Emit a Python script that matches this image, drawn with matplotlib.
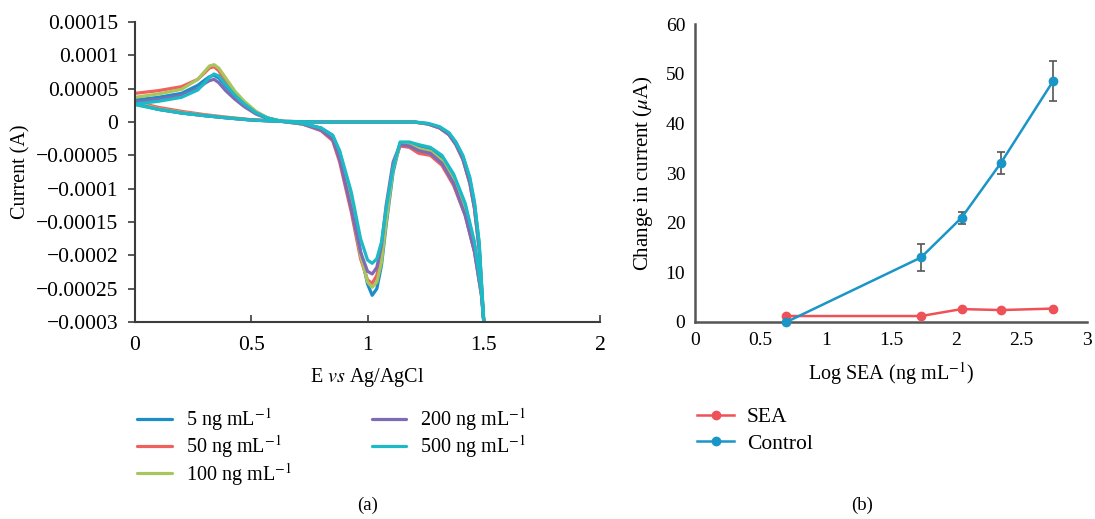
import numpy as np
import matplotlib
matplotlib.use('Agg')
import matplotlib.pyplot as plt
from matplotlib.lines import Line2D

plt.rcParams['font.family'] = ['Liberation Serif', 'DejaVu Serif']
plt.rcParams['mathtext.fontset'] = 'stix'
plt.rcParams['axes.unicode_minus'] = True

# --- panel (a): cyclic voltammograms, current in units of 1e-5 A ---
conc_labels = [r'5 ng mL$^{-1}$', r'50 ng mL$^{-1}$', r'100 ng mL$^{-1}$',
               r'200 ng mL$^{-1}$', r'500 ng mL$^{-1}$']
cv_colors = ['#1b8ec9', '#f0605d', '#a9c65c', '#7f6bb5', '#1cbac6']

e_fwd = [0, 0.1, 0.2, 0.27, 0.30, 0.32, 0.34, 0.36, 0.39, 0.43, 0.47, 0.52, 0.57,
         0.63, 0.72, 0.8, 0.85, 0.88, 0.93, 0.97, 1.0, 1.02, 1.04, 1.06, 1.08, 1.11,
         1.14, 1.18, 1.22, 1.27, 1.32, 1.37, 1.42, 1.46, 1.49, 1.5]
e_rev = [1.5, 1.49, 1.48, 1.46, 1.44, 1.41, 1.38, 1.35, 1.31, 1.26, 1.2, 1.0,
         0.8, 0.62, 0.5, 0.4, 0.3, 0.2, 0.1, 0.0]

i_fwd_5 = [3.3, 3.7, 4.3, 5.5, 6.3, 6.8, 7.0, 6.6, 5.4, 3.8, 2.6, 1.4, 0.6, 0.1,
           -0.2, -0.9, -2.0, -4.5, -11.5, -19.5, -24.3, -26.0, -25.0, -21.5, -15.5,
           -7.5, -3.2, -3.1, -3.6, -4.0, -5.3, -8.0, -12.5, -18.5, -25.5, -30.0]
i_fwd_50 = [4.3, 4.7, 5.3, 6.4, 7.4, 8.1, 8.3, 7.7, 6.0, 4.1, 2.8, 1.5, 0.6, 0.1,
            -0.3, -1.3, -2.8, -6.0, -13.5, -20.5, -23.7, -24.2, -23.0, -19.5, -13.5,
            -6.5, -3.6, -3.8, -4.7, -5.0, -6.5, -9.5, -14.0, -19.5, -26.0, -30.0]
i_fwd_100 = [3.7, 4.2, 4.9, 6.4, 7.6, 8.4, 8.6, 8.1, 6.6, 4.6, 3.1, 1.6, 0.6, 0.1,
             -0.3, -1.1, -2.4, -5.2, -12.5, -20.0, -24.0, -24.8, -24.0, -21.0, -15.0,
             -7.0, -3.3, -3.4, -4.0, -4.4, -5.8, -8.8, -13.5, -19.0, -26.0, -30.0]
i_fwd_200 = [3.0, 3.4, 4.0, 5.0, 5.8, 6.2, 6.4, 5.9, 4.7, 3.4, 2.3, 1.2, 0.5, 0.1,
             -0.3, -1.2, -2.6, -5.6, -13.0, -19.5, -22.4, -22.8, -21.8, -18.5, -12.5,
             -6.0, -3.4, -3.6, -4.3, -4.7, -6.2, -9.2, -14.0, -19.5, -26.0, -30.0]
i_fwd_500 = [2.7, 3.1, 3.7, 4.8, 5.9, 6.7, 7.2, 6.9, 5.6, 4.0, 2.7, 1.4, 0.6, 0.1,
             -0.2, -0.9, -2.0, -4.3, -10.5, -17.5, -20.7, -21.2, -20.5, -18.0, -13.0,
             -6.8, -3.0, -3.0, -3.4, -3.8, -5.0, -7.8, -12.2, -18.0, -25.5, -30.0]

i_rev_5 = [-30, -24.2, -18.3, -12.3, -8.6, -5.2, -3.1, -1.7, -0.8, -0.25, 0.0, 0.0,
           0.0, 0.1, 0.3, 0.6, 0.95, 1.35, 1.9, 2.8]
i_rev_50 = [-30, -24.8, -19.0, -13.0, -9.2, -5.6, -3.4, -1.9, -0.9, -0.3, 0.0, 0.0,
            0.0, 0.1, 0.35, 0.7, 1.1, 1.6, 2.2, 3.0]
i_rev_100 = [-30, -24.6, -18.8, -12.8, -9.0, -5.5, -3.3, -1.8, -0.85, -0.3, 0.0, 0.0,
             0.0, 0.1, 0.3, 0.65, 1.0, 1.45, 2.0, 2.9]
i_rev_200 = [-30, -24.8, -19.0, -13.0, -9.2, -5.6, -3.4, -1.9, -0.9, -0.3, 0.0, 0.0,
             0.0, 0.1, 0.3, 0.6, 0.95, 1.35, 1.9, 2.7]
i_rev_500 = [-30, -24.0, -18.0, -12.0, -8.3, -5.0, -3.0, -1.6, -0.7, -0.2, 0.0, 0.0,
             0.0, 0.1, 0.3, 0.6, 0.95, 1.35, 1.9, 2.6]

cv_fwd = [i_fwd_5, i_fwd_50, i_fwd_100, i_fwd_200, i_fwd_500]
cv_rev = [i_rev_5, i_rev_50, i_rev_100, i_rev_200, i_rev_500]

a_yticks = [0.00015, 0.0001, 0.00005, 0, -0.00005, -0.0001, -0.00015, -0.0002,
            -0.00025, -0.0003]
a_yticklabels = ['0.00015', '0.0001', '0.00005', '0', '\u22120.00005', '\u22120.0001',
                 '\u22120.00015', '\u22120.0002', '\u22120.00025', '\u22120.0003']
a_xticks = [0, 0.5, 1, 1.5, 2]
a_xticklabels = ['0', '0.5', '1', '1.5', '2']

# --- panel (b): calibration ---
series_labels = ['SEA', 'Control']
log_sea = [0.70, 1.73, 2.04, 2.34, 2.74]
sea_vals = [1.2, 1.2, 2.6, 2.4, 2.7]
control_vals = [0.0, 13.0, 21.0, 32.0, 48.5]
control_err = [0.0, 2.8, 1.2, 2.2, 4.0]

fig = plt.figure(figsize=(10.95, 5.19), dpi=100)
ax1 = fig.add_axes([0.1233, 0.3796, 0.4247, 0.578])
ax2 = fig.add_axes([0.6347, 0.3796, 0.3580, 0.574])

spine_col = '#3c3c3c'
for k in range(5):
    e = e_fwd + e_rev
    cur = np.array(cv_fwd[k] + cv_rev[k]) * 1e-5
    ax1.plot(e, cur, color=cv_colors[k], lw=2.3, label=conc_labels[k],
             solid_joinstyle='round', solid_capstyle='round')

ax1.set_xlim(0, 2)
ax1.set_ylim(-0.0003, 0.00015)
ax1.set_yticks(a_yticks)
ax1.set_yticklabels(a_yticklabels)
ax1.set_xticks(a_xticks)
ax1.set_xticklabels(a_xticklabels)
for s in ['top', 'right']:
    ax1.spines[s].set_visible(False)
for s in ['left', 'bottom']:
    ax1.spines[s].set_color(spine_col)
    ax1.spines[s].set_linewidth(1.5)
ax1.tick_params(axis='y', direction='out', length=5, width=1.2, color=spine_col,
                labelsize=15.5, pad=7)
ax1.tick_params(axis='x', direction='in', length=5, width=1.2, color=spine_col,
                labelsize=15.5, pad=10)
ax1.set_xlabel(r'E $\mathit{vs}$ Ag/AgCl', fontsize=14.5, labelpad=8)
ax1.set_ylabel('Current (A)', fontsize=14.5, labelpad=4)

sea_col = '#ee5258'
ctl_col = '#1a95c8'
ax2.plot(log_sea, sea_vals, color=sea_col, lw=1.8, marker='o', ms=6,
         clip_on=False, zorder=3)
ax2.errorbar(log_sea, control_vals, yerr=control_err, color=ctl_col, lw=1.8,
             marker='o', ms=6, ecolor='#555555', elinewidth=1.2, capsize=3,
             capthick=1.2, clip_on=False, zorder=4)
ax2.set_xlim(0, 3)
ax2.set_ylim(0, 60)
ax2.set_xticks([0, 0.5, 1, 1.5, 2, 2.5, 3])
ax2.set_xticklabels(['0', '0.5', '1', '1.5', '2', '2.5', '3'])
ax2.set_yticks([0, 10, 20, 30, 40, 50, 60])
for s in ['top', 'right']:
    ax2.spines[s].set_visible(False)
for s in ['left', 'bottom']:
    ax2.spines[s].set_color('#555555')
    ax2.spines[s].set_linewidth(1.8)
ax2.tick_params(length=0, labelsize=14, pad=7)
ax2.set_xlabel(r'Log SEA (ng mL$^{-1}$)', fontsize=14.5, labelpad=8)
ax2.set_ylabel(r'Change in current ($\mu$A)', fontsize=15, labelpad=8)

h1, l1 = ax1.get_legend_handles_labels()
fig.legend(h1, l1, loc='upper left', bbox_to_anchor=(0.118, 0.233), ncol=2,
           frameon=False, fontsize=14.5, handlelength=1.7, handletextpad=0.7,
           columnspacing=4.0, labelspacing=0.02, borderaxespad=0)
h2 = [Line2D([], [], color=sea_col, lw=1.8, marker='o', ms=6),
      Line2D([], [], color=ctl_col, lw=1.8, marker='o', ms=6)]
fig.legend(h2, series_labels, loc='upper left', bbox_to_anchor=(0.629, 0.232),
           ncol=1, frameon=False, fontsize=15.5, handlelength=1.7,
           handletextpad=0.6, labelspacing=0.3, borderaxespad=0)

fig.text(0.336, 0.027, '(a)', ha='center', va='center', fontsize=13.5)
fig.text(0.787, 0.027, '(b)', ha='center', va='center', fontsize=13.5)

fig.savefig('out.png', dpi=100)
